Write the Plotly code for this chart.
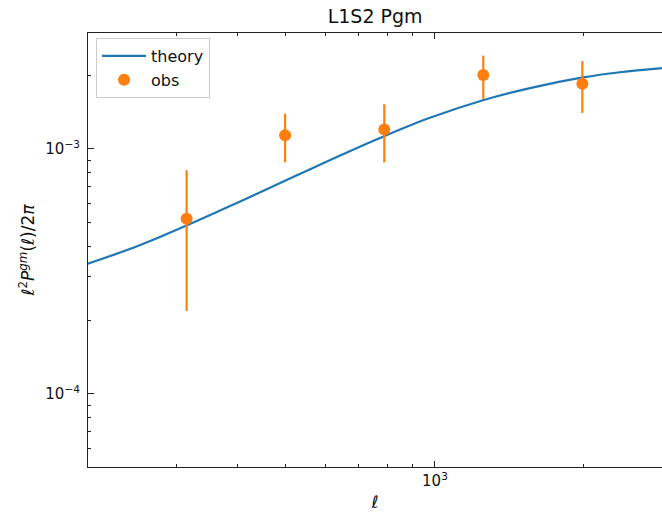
import numpy as np
import plotly.graph_objects as go

# ---- data ----
ell_theory = [199, 251, 314, 400, 509, 643, 789, 977, 1250, 1556, 1991, 2364, 2875]
p_theory = [3.40e-4, 4.01e-4, 4.85e-4, 6.04e-4, 7.56e-4, 9.39e-4, 1.126e-3,
            1.339e-3, 1.579e-3, 1.770e-3, 1.956e-3, 2.054e-3, 2.137e-3]

ell_obs = [315, 498, 790, 1252, 1985]
p_obs = [5.18e-4, 1.136e-3, 1.20e-3, 2.00e-3, 1.842e-3]
err_obs = [3.0e-4, 2.55e-4, 3.2e-4, 4.0e-4, 4.4e-4]

x_range = [199.1, 2875]
y_range = [5.03e-5, 2.97e-3]
x_major = [1000]
x_major_text = ["10<sup>3</sup>"]
y_major = [1e-4, 1e-3]
y_major_text = ["10<sup>\u22124</sup>", "10<sup>\u22123</sup>"]

BLUE = "#1f77b4"
ORANGE = "#ff7f0e"
FONT = "DejaVu Sans"


def minor_ticks(lo, hi):
    vals = []
    for d in range(int(np.floor(np.log10(lo))), int(np.ceil(np.log10(hi))) + 1):
        for s in range(2, 10):
            v = s * 10.0 ** d
            if lo <= v <= hi:
                vals.append(v)
    return vals


fig = go.Figure()
fig.add_trace(go.Scatter(
    x=ell_theory, y=p_theory, mode="lines", name="theory",
    line=dict(color=BLUE, width=2.2, shape="spline", smoothing=1.0),
))
fig.add_trace(go.Scatter(
    x=ell_obs, y=p_obs, mode="markers", name="obs",
    marker=dict(color=ORANGE, size=12, line=dict(width=0)),
    error_y=dict(type="data", array=err_obs, color=ORANGE, thickness=2.2, width=0),
))

axis_common = dict(
    type="log", showgrid=False, zeroline=False,
    showline=True, linecolor="#222222", linewidth=1.2,
    ticks="inside", ticklen=6, tickwidth=1.1, tickcolor="#222222",
    tickfont=dict(family=FONT, size=15, color="#111111"),
)

fig.update_xaxes(
    **axis_common,
    range=[np.log10(x_range[0]), np.log10(x_range[1])],
    tickmode="array", tickvals=x_major, ticktext=x_major_text,
    mirror="ticks",
    minor=dict(tickmode="array", tickvals=minor_ticks(*x_range), ticks="inside",
               ticklen=3, tickwidth=1, tickcolor="#222222", showgrid=False),
    title=dict(text="<i>\u2113</i>", font=dict(family=FONT, size=17, color="#111111"),
               standoff=7),
)
fig.update_yaxes(
    **axis_common,
    range=[np.log10(y_range[0]), np.log10(y_range[1])],
    tickmode="array", tickvals=y_major, ticktext=y_major_text,
    minor=dict(tickmode="array", tickvals=minor_ticks(*y_range), ticks="inside",
               ticklen=3, tickwidth=1, tickcolor="#222222", showgrid=False),
    ticklabelstandoff=4,
    title=dict(text="<i>\u2113</i><sup>2</sup><i>P</i><sup><i>gm</i></sup>(<i>\u2113</i>)/2<i>\u03c0</i>",
               font=dict(family=FONT, size=17, color="#111111"), standoff=6),
)

fig.update_layout(
    width=662, height=515,
    margin=dict(l=88, r=0, t=33, b=48),
    paper_bgcolor="white", plot_bgcolor="white",
    font=dict(family=FONT, color="#111111"),
    title=dict(text="L1S2 Pgm", x=0.5666, xref="container", xanchor="center",
               y=1 - 16 / 515, yref="container", yanchor="middle",
               font=dict(family=FONT, size=19, color="#111111")),
    legend=dict(x=0.014, y=0.9885, xanchor="left", yanchor="top",
                bgcolor="rgba(255,255,255,0.8)", bordercolor="#cccccc", borderwidth=1,
                font=dict(family=FONT, size=16, color="#111111"),
                itemwidth=44, tracegroupgap=0),
    showlegend=True,
)

fig.write_html("out.html")
